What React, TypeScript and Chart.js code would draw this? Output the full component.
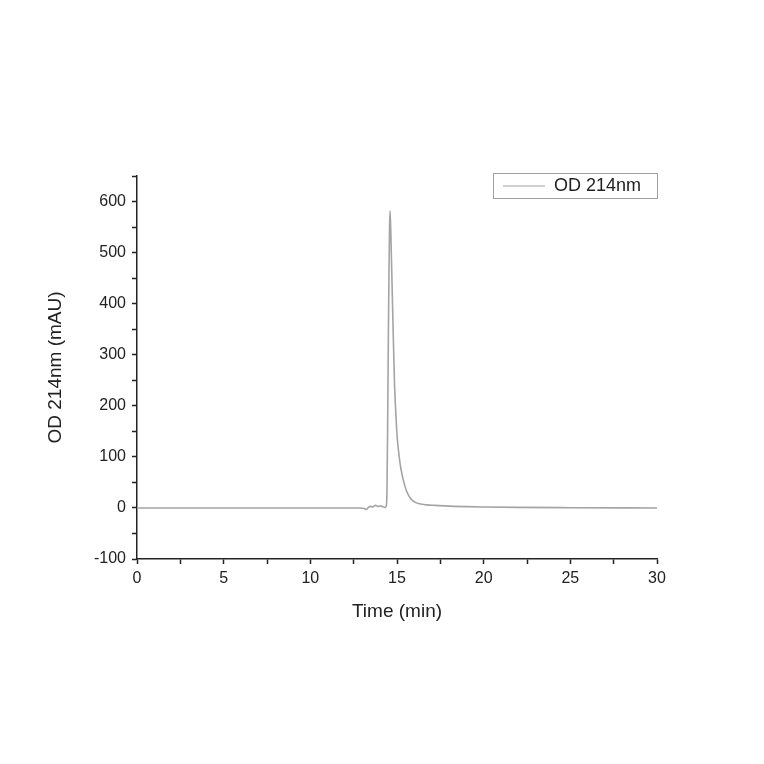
import { useEffect, useRef } from 'react';
import { Chart, registerables } from 'chart.js';

Chart.register(...registerables);

// retention time (min) and absorbance (mAU)
const timeMin = [
  0, 5, 10, 12.9, 13.1, 13.25, 13.35, 13.5, 13.6, 13.75, 13.9, 14.05, 14.2, 14.32, 14.38,
  14.42, 14.46, 14.5, 14.54, 14.57, 14.6, 14.65, 14.72, 14.79, 14.86, 14.94, 15.02, 15.1,
  15.2, 15.3, 15.4, 15.55, 15.75, 16.0, 16.3, 16.7, 17.2, 18, 19, 20, 22, 25, 30,
];
const odValues = [
  0, 0, 0, 0, -1, -3, 1, 3, 2, 5, 3, 4, 2, 1, 4,
  30, 160, 330, 470, 550, 582, 530, 430, 330, 240, 180, 135, 108,
  82, 64, 50, 33, 20, 12, 8, 6, 5, 3.5, 2.5, 1.8, 1, 0.5, 0,
];
const seriesLabel = 'OD 214nm';
const xTitle = 'Time (min)';
const yTitle = 'OD 214nm (mAU)';

const FONT = '"Liberation Sans", Arial, sans-serif';
const INK = '#222';
const TRACE = '#a4a4a4';

const legendBox = {
  id: 'legendBox',
  afterDraw(chart: Chart) {
    const { ctx, chartArea } = chart;
    const right = chartArea.right;
    const top = chartArea.top - 3;
    const w = 164;
    const h = 25;
    const left = right - w;
    ctx.save();
    ctx.strokeStyle = '#a0a0a0';
    ctx.lineWidth = 1;
    ctx.strokeRect(left + 0.5, top + 0.5, w, h);
    ctx.strokeStyle = TRACE;
    ctx.lineWidth = 1.2;
    ctx.beginPath();
    ctx.moveTo(left + 10, top + h / 2 + 0.5);
    ctx.lineTo(left + 52, top + h / 2 + 0.5);
    ctx.stroke();
    ctx.fillStyle = INK;
    ctx.font = `18px ${FONT}`;
    ctx.textBaseline = 'middle';
    ctx.fillText(seriesLabel, left + 61, top + h / 2 + 1);
    ctx.restore();
  },
};

export default function App() {
  const canvasRef = useRef<HTMLCanvasElement>(null);
  const chartRef = useRef<Chart | null>(null);

  useEffect(() => {
    if (!canvasRef.current) return;
    const ctx = canvasRef.current.getContext('2d');
    if (!ctx) return;

    chartRef.current = new Chart(ctx, {
      type: 'line',
      data: {
        datasets: [
          {
            label: seriesLabel,
            data: timeMin.map((t, i) => ({ x: t, y: odValues[i] })),
            borderColor: TRACE,
            borderWidth: 1.6,
            pointRadius: 0,
            cubicInterpolationMode: 'monotone',
            fill: false,
          },
        ],
      },
      options: {
        responsive: true,
        maintainAspectRatio: false,
        animation: false,
        layout: { padding: { left: 44, right: 107, top: 176, bottom: 141 } },
        plugins: {
          legend: { display: false },
          tooltip: { enabled: false },
        },
        scales: {
          x: {
            type: 'linear',
            min: 0,
            max: 30,
            afterFit: (scale: any) => {
              scale.height = 764 - 559 - 141;
            },
            border: { color: INK, width: 1.5 },
            grid: { drawOnChartArea: false, tickLength: 5, color: INK, tickWidth: 1.5 },
            ticks: {
              stepSize: 2.5,
              color: INK,
              font: { family: FONT, size: 16 },
              padding: 5,
              maxRotation: 0,
              callback: (v: any) => (Number(v) % 5 === 0 ? String(v) : ''),
            },
            title: {
              display: true,
              text: xTitle,
              color: INK,
              font: { family: FONT, size: 19 },
              padding: { top: 6, bottom: 0 },
            },
          },
          y: {
            min: -100,
            max: 650,
            afterFit: (scale: any) => {
              scale.width = 137 - 44;
            },
            border: { color: INK, width: 1.5 },
            grid: { drawOnChartArea: false, tickLength: 5, color: INK, tickWidth: 1.5 },
            ticks: {
              stepSize: 50,
              color: INK,
              font: { family: FONT, size: 16 },
              padding: 6,
              callback: (v: any) => (Number(v) % 100 === 0 && Number(v) <= 600 ? String(v) : ''),
            },
            title: {
              display: true,
              text: yTitle,
              color: INK,
              font: { family: FONT, size: 19 },
              padding: { top: 0, bottom: 0 },
            },
          },
        },
      },
      plugins: [legendBox],
    });

    return () => {
      chartRef.current?.destroy();
      chartRef.current = null;
    };
  }, []);

  return (
    <div style={{ position: 'absolute', left: 0, top: 0, width: 764, height: 764, background: '#fff' }}>
      <canvas ref={canvasRef} />
    </div>
  );
}
